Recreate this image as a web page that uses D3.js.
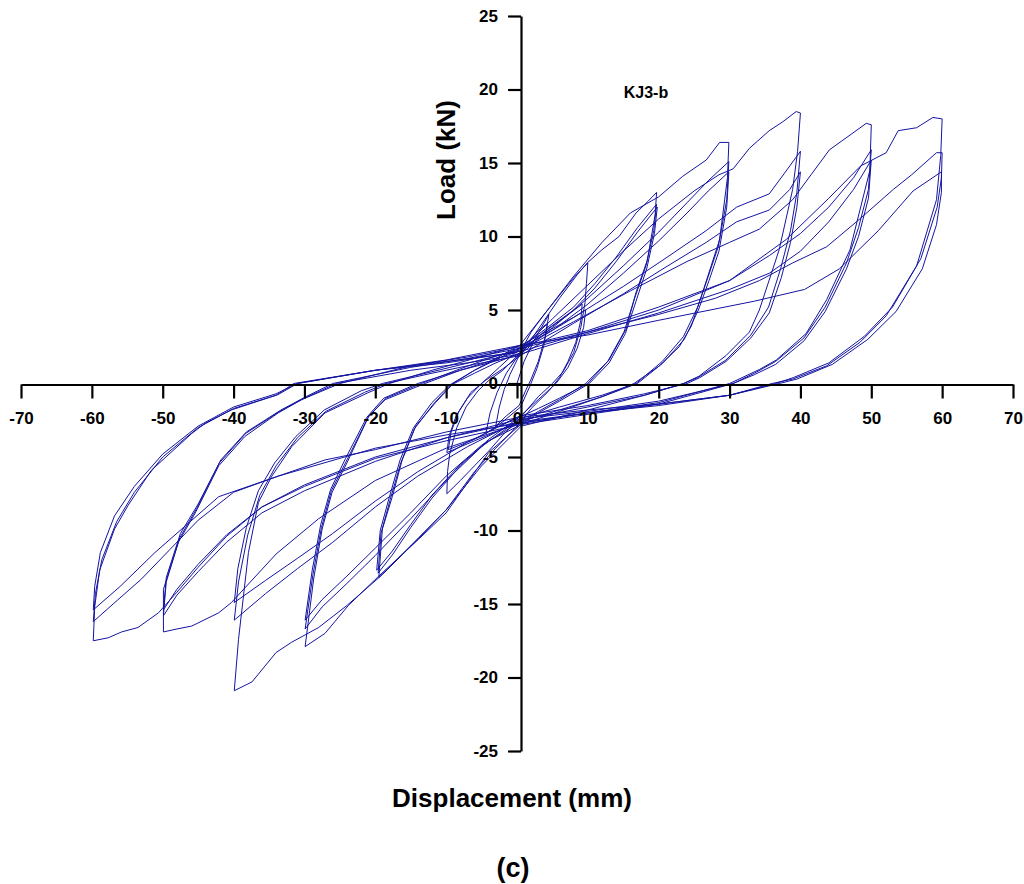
<!DOCTYPE html>
<html>
<head>
<meta charset="utf-8">
<script src="https://cdn.jsdelivr.net/npm/d3@7"></script>
<style>
  body { margin: 0; background: #fff; }
  svg { display: block; }
  text { font-family: "Liberation Sans", Arial, sans-serif; font-weight: bold; fill: #000; }
</style>
</head>
<body>
<svg id="chart" width="1024" height="884"></svg>
<script>
// Axis tick values
const xTicks = [-70, -60, -50, -40, -30, -20, -10, 0, 10, 20, 30, 40, 50, 60, 70];
const yTicks = [-25, -20, -15, -10, -5, 0, 5, 10, 15, 20, 25];

// Load-displacement history, [displacement (mm), load (kN)], grouped by amplitude level
const lv05 = [
  [0,0],[1,1.5],[2.5,3.0],[4.5,4.7],[4.0,3.2],[3.0,1.5],[2.0,0.3],[1.2,-0.5],[0.3,-1.5],[-1.5,-2.2],[-3.0,-2.9],[-2.5,-1.6],[-1.8,-0.4],[-1.0,0.6],[0.3,1.9],
  [1.5,2.8],[3.0,3.6],[4.3,4.1],[3.8,2.6],[2.8,1.0],[1.8,-0.2],[0.5,-1.6],[-2,-2.6],[-4.4,-3.4],[-3.8,-2.0],[-2.8,-0.6],[-1.5,0.7],[0.3,2.0]
];
const lv10 = [
  [2,3.5],[4,4.8],[6,6.0],[8,7.2],[10,8.2],[9.8,6.8],[9.6,5.5],[9.0,3.8],[8.0,2.1],[6.5,0.8],[5,0],[3,-0.9],[0.5,-2.3],[-2,-3.5],[-4,-4.6],[-6,-5.6],[-8,-6.6],[-9.9,-7.5],[-9.8,-6.0],[-9.5,-4.8],[-8.5,-3.0],[-7.2,-1.6],[-5.5,-0.5],[-4,0.2],[-2,0.9],[0.3,2.0],
  [3,3.2],[5,3.9],[7,4.6],[9.2,5.4],[9.0,4.3],[8.3,2.8],[7.2,1.5],[6,0.4],[4.5,-0.5],[2,-1.7],[0.5,-2.6],[-3,-3.3],[-6,-3.9],[-9.9,-4.7],[-9.6,-3.6],[-8.6,-2.2],[-7,-1.0],[-5,0],[-2.5,1.1],[0.4,2.4],
  [3,3.1],[6,3.9],[9.7,5.0],[9.4,3.8],[8.5,2.4],[7.2,1.1],[5.5,0],[3,-1.1],[0.5,-2.2],[-3,-3.0],[-6,-3.8],[-9.7,-4.5],[-9.3,-3.3],[-8.2,-1.9],[-6.5,-0.6],[-4.5,0.2],[-2,1.0],[0.5,1.9]
];
const lv20 = [
  [3,3.7],[6,5.8],[8.5,7.4],[9.9,8.2],[12,9.1],[14.4,10.0],[16.8,11.6],[18.5,12.4],[19.7,13.0],[19.5,11.5],[18.4,8.4],[16.8,6.2],[15.4,3.7],[13,1.6],[9.7,0],[6,-1.1],[3,-1.9],[0.4,-2.7],[-3,-4.4],[-6,-6.0],[-10,-8.6],[-13.9,-10.5],[-17,-12.0],[-19.5,-13.2],[-19.0,-9.9],[-17.6,-7.7],[-16.2,-5.2],[-14.3,-2.9],[-11.5,-1.3],[-9,0],[-6,0.9],[-3,1.6],[0.6,2.5],
  [4,3.7],[8,5.2],[11,6.8],[14,8.6],[17,10.6],[19.7,12.2],[19.3,10.4],[18.2,8.0],[16.6,5.8],[15.1,3.5],[12.8,1.5],[10,0],[6,-1.0],[3,-1.7],[0.3,-2.3],[-4,-3.8],[-8,-5.6],[-12,-7.8],[-15,-9.8],[-17.5,-11.6],[-19.6,-12.9],[-19.2,-10.2],[-17.9,-7.9],[-16.4,-5.4],[-14.5,-3.1],[-11.8,-1.4],[-9.3,-0.1],[-6,0.7],[-3,1.4],[0.5,2.1],
  [4,3.6],[8,5.0],[11,6.5],[14,8.3],[17,10.3],[19.8,12.0],[19.4,10.2],[18.3,7.8],[16.8,5.6],[15.3,3.4],[13,1.4],[10.2,0],[6,-1.2],[3,-2.0],[0.6,-2.8],[-4,-3.9],[-8,-5.5],[-12,-7.6],[-15,-9.6],[-17.6,-11.4],[-19.8,-12.7],[-19.3,-10.0],[-18,-7.7],[-16.5,-5.2],[-14.6,-3.0],[-12,-1.3],[-9.5,-0.1],[-6,0.9],[-3,1.7],[0.4,2.6]
];
const lv30 = [
  [4,4.8],[8,7.3],[12,9.6],[16,11.6],[20,12.7],[23.4,14.1],[26.7,15.2],[28.6,16.4],[29.9,16.4],[29.7,14.0],[28.6,9.8],[27.4,8.0],[26.2,6.2],[24.6,3.9],[22.9,2.5],[20.1,1.2],[16.5,0],[12,-0.9],[6,-1.9],[0.5,-2.8],[-4,-4.7],[-10,-8.8],[-13.9,-10.6],[-19.5,-13.1],[-23.8,-15.1],[-27.1,-17.0],[-29.9,-17.9],[-28.7,-13.3],[-27.5,-9.9],[-26.1,-7.4],[-24,-5.4],[-20.9,-2.2],[-18.6,-1.1],[-13,0],[-8,0.9],[-4,1.4],[0.5,2.0],
  [5,3.8],[10,5.8],[15,8.0],[20,10.3],[24,12.3],[27,13.8],[29.9,15.1],[29.6,12.5],[28.4,9.3],[27,7.3],[25.5,5.2],[23.5,3.2],[20.5,1.5],[16.8,0],[12,-0.8],[6,-1.6],[0.4,-2.4],[-5,-4.3],[-10,-6.6],[-15,-9.2],[-20,-11.7],[-24,-13.6],[-27.5,-15.2],[-29.9,-16.7],[-28.8,-13.0],[-27.6,-9.8],[-26.2,-7.3],[-24,-5.2],[-21,-2.3],[-18.5,-1.0],[-13.5,0],[-8,1.0],[-4,1.7],[0.6,2.4],
  [5,3.6],[10,5.4],[15,7.5],[20,9.7],[24,11.6],[27,13.1],[29.9,14.4],[29.6,12.0],[28.5,9.0],[27.1,7.0],[25.6,5.0],[23.6,3.0],[20.6,1.4],[17,0],[12,-0.9],[6,-1.8],[0.5,-2.6],[-5,-4.2],[-10,-6.3],[-15,-8.8],[-20,-11.2],[-24,-13.1],[-27.5,-14.7],[-29.9,-16.1],[-28.9,-12.7],[-27.7,-9.6],[-26.3,-7.2],[-24.2,-5.1],[-21.2,-2.3],[-18.8,-1.0],[-14,0],[-8,0.9],[-4,1.5],[0.3,2.2]
];
const lv40 = [
  [5,4.4],[10,6.7],[15,9.0],[20,11.2],[25,13.1],[28.5,14.2],[30.5,14.6],[32.8,16.0],[35.6,17.2],[37.5,17.8],[39.4,18.5],[40,18.4],[39.6,15.8],[38.9,13.2],[37,9.1],[34.2,5.0],[32.8,3.5],[29.5,1.9],[25.7,0.5],[23.5,0],[18,-0.8],[10,-1.8],[0.6,-2.9],[-5,-5.6],[-10,-8.6],[-14,-10.6],[-19,-13.0],[-24,-15.1],[-28,-16.6],[-31.8,-17.6],[-34,-18.3],[-37.4,-20.3],[-39.9,-20.9],[-39.3,-17.4],[-37.9,-11.5],[-36.5,-8.1],[-34.6,-6.3],[-31.8,-4.3],[-27.1,-2.0],[-20.9,-0.6],[-18,0],[-12,0.9],[-6,1.7],[0.5,2.6],
  [8,4.5],[15,6.6],[20.6,8.4],[26.7,10.4],[31,12.0],[35.6,12.9],[38.5,14.8],[40,15.8],[39.5,13.0],[38.6,10.4],[37.2,7.8],[35.5,5.2],[33,3.3],[29.5,1.6],[25.5,0.4],[23.5,0],[18,-0.8],[10,-1.6],[0.4,-2.5],[-7,-4.3],[-14,-6.3],[-20,-8.4],[-26,-10.8],[-31,-12.6],[-35.5,-14.3],[-39.9,-16.1],[-39.3,-13.5],[-38,-10.3],[-36.3,-7.6],[-34,-5.6],[-31,-3.7],[-27,-1.9],[-21.5,-0.6],[-18.5,0],[-12,0.7],[-6,1.3],[0.5,1.9],
  [8,4.1],[15,6.1],[20.6,7.8],[26.7,9.6],[31,11.0],[35.6,11.8],[38.5,13.2],[40,14.4],[39.5,12.0],[38.6,9.6],[37.3,7.2],[35.6,4.8],[33,3.1],[29.5,1.5],[25.8,0.4],[24,0],[18,-0.7],[10,-1.5],[0.5,-2.2],[-7,-4.0],[-14,-6.0],[-20,-8.0],[-26,-10.2],[-31,-11.9],[-35.5,-13.4],[-39.9,-14.9],[-39.4,-12.6],[-38.2,-9.8],[-36.5,-7.3],[-34.2,-5.4],[-31.2,-3.6],[-27.2,-1.8],[-22,-0.5],[-19,0],[-12,0.8],[-6,1.5],[0.6,2.3]
];
const lv50 = [
  [8,4.2],[16,6.3],[24,8.3],[30,9.6],[34.2,10.5],[38.9,12.5],[41.5,14.2],[44.1,15.9],[47,16.9],[49.3,17.7],[50,17.6],[49.8,14.5],[48.4,11.8],[47,9.1],[43.7,5.7],[40.8,3.4],[36.6,1.6],[34.2,0.95],[30,0],[20,-1.3],[10,-2.0],[0.5,-2.7],[-10,-4.4],[-20,-6.6],[-28,-9.2],[-34,-11.6],[-40.3,-14.9],[-42.1,-15.6],[-45.9,-16.5],[-48,-16.7],[-49.9,-16.9],[-49.9,-14.0],[-47.8,-10.8],[-45.4,-8.8],[-42.1,-5.6],[-38.4,-3.6],[-33.7,-2.0],[-30.4,-1.1],[-25,0],[-15,1.2],[-7,1.8],[0.4,2.5],
  [10,3.6],[20,5.2],[30,7.0],[35.6,8.7],[40,10.2],[44,12.0],[47.5,14.0],[50,15.9],[49.6,13.2],[48.2,10.6],[46.5,8.2],[43.5,5.2],[40.5,3.1],[36.5,1.5],[33.5,0.7],[30.5,0],[20,-1.2],[10,-1.9],[0.6,-2.4],[-10,-3.7],[-20,-5.3],[-30,-7.3],[-36,-8.8],[-41,-10.8],[-45,-12.8],[-48,-14.4],[-49.9,-15.8],[-49.5,-13.5],[-47.6,-10.5],[-45.2,-8.5],[-42,-5.4],[-38.3,-3.4],[-33.5,-1.9],[-30,-1.0],[-25.5,0],[-15,0.9],[-7,1.4],[0.5,2.0],
  [10,3.4],[20,4.8],[30,6.4],[35.6,7.5],[40,9.0],[44,11.0],[47.5,13.2],[50,15.2],[49.6,12.6],[48.2,10.0],[46.5,7.8],[43.5,4.9],[40.5,2.9],[36.5,1.3],[33.5,0.6],[30.5,0],[20,-1.4],[10,-2.1],[0.4,-2.8],[-10,-3.9],[-20,-5.1],[-30,-7.0],[-36,-8.4],[-41,-10.3],[-45,-12.3],[-48,-14.0],[-49.9,-15.4],[-49.5,-13.2],[-47.5,-10.2],[-45,-8.2],[-41.8,-5.2],[-38.2,-3.3],[-33.3,-1.8],[-29.8,-0.9],[-26,0],[-15,1.1],[-7,1.7],[0.5,2.4]
];
const lv60 = [
  [10,3.5],[20,5.0],[30,7.0],[38,9.8],[44,12.6],[48.5,14.8],[52.1,15.7],[53.8,17.2],[56.4,17.4],[58.7,18.1],[60,18.0],[59.8,15.5],[59.2,12.5],[56.4,8.0],[52.1,4.6],[48.4,2.8],[43.7,1.2],[38.9,0.3],[36,0],[30,-0.8],[20,-1.5],[10,-2.0],[0.5,-2.6],[-10,-3.7],[-20,-5.0],[-30,-6.9],[-36,-8.4],[-41,-10.4],[-45,-12.5],[-48,-14.2],[-50.6,-15.6],[-53.5,-16.6],[-55.8,-16.9],[-57.7,-17.3],[-59.8,-17.5],[-59.6,-15.2],[-58.9,-12.7],[-56.8,-9.9],[-54.9,-8.3],[-51.6,-5.9],[-45.9,-3.4],[-44,-2.7],[-40.3,-1.8],[-33.7,-0.75],[-31,0],[-20,0.9],[-10,1.4],[0.6,2.2],
  [10,3.5],[20,4.7],[28,5.8],[34.2,7.0],[38.9,8.2],[43.7,9.3],[48.4,11.2],[53.1,13.2],[55.7,14.2],[59.2,15.7],[60,15.7],[59.9,14.0],[59.3,12.0],[57,8.5],[53,5.2],[49,3.2],[44,1.4],[39,0.4],[36.5,0],[30,-0.8],[20,-1.4],[10,-1.8],[0.4,-2.3],[-10,-3.3],[-20,-4.5],[-27.1,-5.2],[-33.7,-6.3],[-40,-7.4],[-45,-9.3],[-49,-11.3],[-53,-13.3],[-57,-15.0],[-59.8,-16.2],[-59.5,-14.3],[-58.6,-12.0],[-56.5,-9.4],[-54,-7.4],[-50,-5.0],[-45,-3.0],[-40,-1.7],[-34,-0.8],[-31.5,0],[-20,0.9],[-10,1.6],[0.5,2.6],
  [10,3.3],[20,4.3],[33.5,5.6],[40.6,6.4],[45.5,7.8],[51,10.4],[55.9,13.1],[59.9,14.4],[59.9,13.0],[59.2,10.8],[57.2,7.8],[53.5,4.9],[49.5,3.0],[44.5,1.3],[39.5,0.3],[37,0],[30,-0.8],[20,-1.4],[10,-2.0],[0.6,-2.7],[-10,-3.5],[-20,-4.4],[-33.7,-6.3],[-42.1,-7.7],[-51.1,-11.5],[-56,-13.8],[-59.8,-15.4],[-59.6,-13.8],[-58.8,-11.5],[-56.8,-9.0],[-54,-7.0],[-50,-4.8],[-45,-2.9],[-40,-1.6],[-34,-0.7],[-31,0],[-20,0.9],[-10,1.5],[0,2.1]
];

const history = [].concat(lv05, lv10, lv20, lv30, lv40, lv50, lv60);

const svg = d3.select("#chart");
svg.append("rect").attr("width", 1024).attr("height", 884).attr("fill", "#fff");

const x = d3.scaleLinear().domain([-70, 70]).range([21, 1013]);
const y = d3.scaleLinear().domain([-25, 25]).range([751, 16]);

// plain hyphen-minus for negative tick labels
const fmt = d => String(d);

// hysteresis trace
const line = d3.line().x(d => x(d[0])).y(d => y(d[1]));
svg.append("path")
  .datum(history)
  .attr("d", line)
  .attr("fill", "none")
  .attr("stroke", "#1414a2")
  .attr("stroke-width", 1)
  .attr("stroke-linejoin", "round");

// horizontal axis through zero load
const gx = svg.append("g")
  .attr("transform", `translate(0,${y(0) + 1})`)
  .call(d3.axisBottom(x).tickValues(xTicks).tickSize(14).tickSizeOuter(0).tickFormat(fmt));
gx.select(".domain").attr("stroke", "#000").attr("stroke-width", 2.2);
gx.selectAll(".tick line").attr("stroke", "#000").attr("stroke-width", 2.2);
gx.selectAll(".tick text")
  .attr("y", 39).attr("dy", null)
  .attr("font-size", 17).attr("font-weight", "bold")
  .attr("font-family", "'Liberation Sans', Arial, sans-serif").attr("fill", "#000");

// vertical axis next to zero displacement
const gy = svg.append("g")
  .attr("transform", `translate(${x(0) + 4},0)`)
  .call(d3.axisLeft(y).tickValues(yTicks).tickSize(13).tickSizeOuter(0).tickPadding(10).tickFormat(fmt));
gy.select(".domain").attr("stroke", "#000").attr("stroke-width", 2.2);
gy.selectAll(".tick line").attr("stroke", "#000").attr("stroke-width", 2.2);
gy.selectAll(".tick text")
  .attr("font-size", 17).attr("font-weight", "bold")
  .attr("font-family", "'Liberation Sans', Arial, sans-serif").attr("fill", "#000");

// titles
svg.append("text")
  .attr("transform", "translate(455,160) rotate(-90)")
  .attr("text-anchor", "middle")
  .attr("font-size", 26)
  .text("Load (kN)");

svg.append("text")
  .attr("x", 512).attr("y", 807)
  .attr("text-anchor", "middle")
  .attr("font-size", 26)
  .text("Displacement (mm)");

svg.append("text")
  .attr("x", 513).attr("y", 877)
  .attr("text-anchor", "middle")
  .attr("font-size", 27)
  .text("(c)");

svg.append("text")
  .attr("x", 646).attr("y", 98)
  .attr("text-anchor", "middle")
  .attr("font-size", 16)
  .text("KJ3-b");
</script>
</body>
</html>
